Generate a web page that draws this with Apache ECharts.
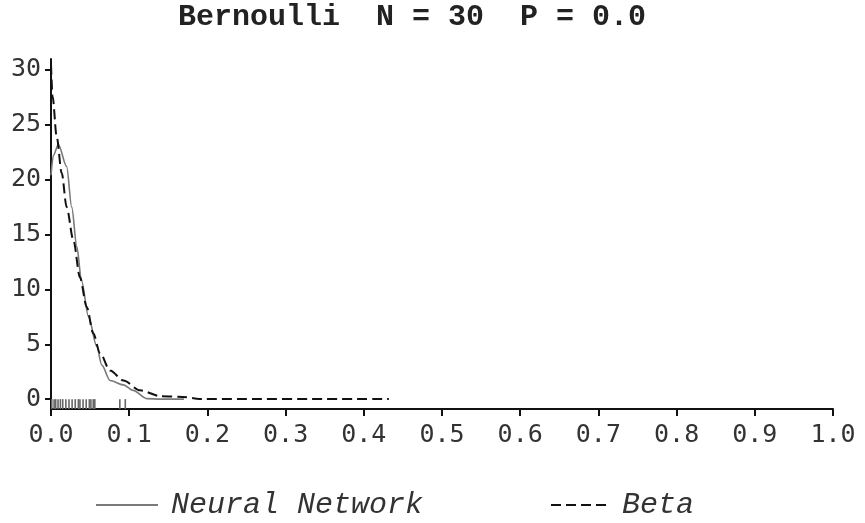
<!DOCTYPE html>
<html>
<head>
<meta charset="utf-8">
<script src="https://cdn.jsdelivr.net/npm/echarts@6/dist/echarts.min.js"></script>
<style>
  html, body { margin: 0; padding: 0; background: #fff; }
  #chart { width: 865px; height: 523px; }
</style>
</head>
<body>
<div id="chart"></div>
<script>
// neural network density estimate (solid grey)
const nnX = [0, 0.003, 0.0094, 0.02, 0.0265, 0.033, 0.039, 0.048, 0.0585, 0.065, 0.0755, 0.0926, 0.105, 0.1225, 0.14, 0.17]
const nnY = [20.4, 22.2, 23.2, 21.2, 17.5, 13.9, 10.8, 7.5, 4.8, 3.1, 1.7, 1.3, 0.8, 0.05, 0, 0]

// beta density (dashed black)
const betaX = [0, 0.002, 0.0073, 0.0137, 0.02, 0.0286, 0.037, 0.0457, 0.054, 0.0627, 0.0755, 0.0926, 0.114, 0.14, 0.169, 0.19, 0.432]
const betaY = [30.5, 27.6, 23.9, 20.6, 17.5, 14.5, 11.1, 8.4, 6.0, 4.2, 2.6, 1.7, 0.8, 0.27, 0.2, 0.02, 0.02]

// observed proportions (rug marks)
const rugX = [0.001, 0.004, 0.006, 0.009, 0.012, 0.015, 0.019, 0.023, 0.027, 0.031, 0.035, 0.037, 0.041, 0.045, 0.049, 0.051, 0.054, 0.056, 0.088, 0.095]

const yTicks = [0, 5, 10, 15, 20, 25, 30]

const chart = echarts.init(document.getElementById('chart'))

const monoSans = 'DejaVu Sans Mono'
const courier = 'Liberation Mono'

const legendText = { fontFamily: courier, fontStyle: 'italic', fontSize: 30, color: '#333', padding: [0, 0, 0, 8] }

chart.setOption({
  backgroundColor: '#fff',
  animation: false,
  title: {
    text: 'Bernoulli  N = 30  P = 0.0',
    left: 178,
    top: 2,
    padding: 0,
    textStyle: {
      fontFamily: courier,
      fontWeight: 'bold',
      fontSize: 30,
      color: '#222'
    }
  },
  legend: [{
    data: ['Neural Network'],
    left: 95,
    top: 490,
    padding: 0,
    itemWidth: 62,
    itemHeight: 16,
    itemStyle: { opacity: 0, borderWidth: 0 },
    textStyle: legendText
  }, {
    data: ['Beta'],
    left: 550,
    top: 490,
    padding: 0,
    itemWidth: 58,
    itemHeight: 16,
    itemStyle: { opacity: 0, borderWidth: 0 },
    textStyle: legendText
  }],
  grid: {
    left: 51,
    right: 32,
    top: 59,
    bottom: 114
  },
  xAxis: {
    type: 'value',
    min: 0,
    max: 1,
    interval: 0.1,
    axisLine: { onZero: false, lineStyle: { color: '#111', width: 2 } },
    axisTick: { length: 7, lineStyle: { color: '#111', width: 2 } },
    axisLabel: {
      margin: 14,
      fontFamily: monoSans,
      fontSize: 25,
      color: '#333',
      formatter: function(v) { return v.toFixed(1) }
    },
    splitLine: { show: false }
  },
  yAxis: {
    type: 'value',
    min: -0.9,
    max: 31,
    axisLine: { show: true, lineStyle: { color: '#111', width: 2 } },
    axisTick: { show: true, length: 6, customValues: yTicks, lineStyle: { color: '#111', width: 2 } },
    axisLabel: {
      margin: 10,
      fontFamily: monoSans,
      fontSize: 25,
      color: '#333',
      customValues: yTicks
    },
    splitLine: { show: false }
  },
  series: [{
    name: 'Neural Network',
    type: 'line',
    data: nnX.map((x, i) => [x, nnY[i]]),
    showSymbol: false,
    symbol: 'none',
    smooth: 0.3,
    smoothMonotone: 'x',
    itemStyle: { color: '#7a7a7a' },
    lineStyle: { color: '#7a7a7a', width: 1.6 },
    z: 3
  }, {
    name: 'Beta',
    type: 'line',
    data: betaX.map((x, i) => [x, betaY[i]]),
    showSymbol: false,
    symbol: 'none',
    smooth: 0.3,
    smoothMonotone: 'x',
    itemStyle: { color: '#111' },
    lineStyle: { color: '#111', width: 2, type: [10, 5] },
    z: 4
  }, {
    name: 'rug',
    type: 'custom',
    data: rugX.map(x => [x, 0]),
    renderItem: function(params, api) {
      const top = api.coord([api.value(0), 0])
      const bottom = params.coordSys.y + params.coordSys.height
      return {
        type: 'line',
        shape: { x1: top[0], y1: top[1], x2: top[0], y2: bottom },
        style: { stroke: '#666', lineWidth: 1.6 }
      }
    },
    silent: true,
    z: 2
  }]
})
</script>
</body>
</html>
